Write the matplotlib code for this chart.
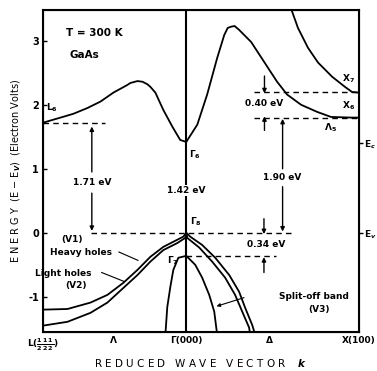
import matplotlib.pyplot as plt

# band energies (k: L at -0.83, Gamma at 0, X at 1)
cb_L_k = [-0.83, -0.728, -0.653, -0.572, -0.497, -0.422, -0.341, -0.324, -0.283, -0.254, -0.225, -0.208, -0.179, -0.133, -0.081, -0.035, 0.0]
cb_L_E = [1.72, 1.80, 1.86, 1.95, 2.05, 2.19, 2.31, 2.34, 2.37, 2.36, 2.32, 2.28, 2.19, 1.92, 1.66, 1.45, 1.42]

cb_X_k = [0.0, 0.064, 0.121, 0.179, 0.22, 0.24, 0.26, 0.28, 0.306, 0.376, 0.451, 0.526, 0.584, 0.665, 0.757, 0.838, 0.954, 1.0]
cb_X_E = [1.42, 1.69, 2.16, 2.73, 3.09, 3.20, 3.22, 3.23, 3.17, 2.98, 2.67, 2.36, 2.16, 2.00, 1.89, 1.81, 1.80, 1.80]

x7_k = [0.61, 0.647, 0.705, 0.763, 0.844, 0.919, 0.96, 1.0]
x7_E = [3.48, 3.20, 2.89, 2.66, 2.44, 2.28, 2.20, 2.19]

heavy_k = [-0.83, -0.688, -0.555, -0.457, -0.364, -0.283, -0.208, -0.133, -0.075, -0.017, 0.0,
           0.023, 0.092, 0.168, 0.249, 0.306, 0.341, 0.382, 0.399]
heavy_E = [-1.20, -1.19, -1.09, -0.97, -0.78, -0.58, -0.375, -0.22, -0.14, -0.06, 0.0,
           -0.06, -0.19, -0.39, -0.66, -0.92, -1.17, -1.44, -1.59]

light_k = [-0.83, -0.688, -0.555, -0.457, -0.364, -0.283, -0.208, -0.133, -0.052, -0.006, 0.0,
           0.006, 0.075, 0.150, 0.225, 0.283, 0.324, 0.364, 0.370]
light_E = [-1.45, -1.39, -1.25, -1.09, -0.86, -0.66, -0.45, -0.27, -0.16, -0.08, 0.0,
           -0.08, -0.23, -0.45, -0.70, -0.97, -1.23, -1.48, -1.59]

so_k = [-0.121, -0.110, -0.092, -0.075, -0.046, 0.0, 0.052, 0.092, 0.133, 0.162, 0.179]
so_E = [-1.59, -1.16, -0.84, -0.58, -0.39, -0.36, -0.50, -0.70, -0.97, -1.23, -1.59]

k_ticks = [-0.83, -0.42, 0.0, 0.48, 1.0]
k_labels = [r'L($\frac{1}{2}\frac{1}{2}\frac{1}{2}$)', 'Λ', 'Γ(000)', 'Δ', 'X(100)']
E_ticks = [-1, 0, 1, 2, 3]

E_L6 = 1.71
E_G6 = 1.42
E_X6 = 1.80
E_X7 = 2.20
E_G7 = -0.36

plt.rcParams['font.family'] = 'DejaVu Sans'
plt.rcParams['font.weight'] = 'bold'

fig = plt.figure(figsize=(3.77, 3.71), dpi=100)
ax = fig.add_axes([0.114, 0.105, 0.838, 0.868])

lw = 1.3
band = dict(color='black', lw=lw, solid_joinstyle='round', solid_capstyle='round')
ax.plot(cb_L_k, cb_L_E, **band)
ax.plot(cb_X_k, cb_X_E, **band)
ax.plot(x7_k, x7_E, **band)
ax.plot(heavy_k, heavy_E, **band)
ax.plot(light_k, light_E, **band)
ax.plot(so_k, so_E, **band)

ax.axvline(0, color='black', lw=1.5)

dash = dict(color='black', lw=1.0, ls=(0, (4, 3)))
ax.plot([-0.83, -0.47], [E_L6, E_L6], **dash)
ax.plot([-0.55, 0.62], [0, 0], **dash)
ax.plot([0, 0.52], [E_G7, E_G7], **dash)
ax.plot([0.39, 1.0], [E_X6, E_X6], **dash)
ax.plot([0.39, 1.0], [E_X7, E_X7], **dash)

arr = dict(arrowstyle='-|>', color='black', lw=1.0, mutation_scale=6, shrinkA=0, shrinkB=0)
fs = 6.5

# 1.71 eV
ax.annotate('', xy=(-0.547, E_L6 - 0.05), xytext=(-0.547, 0.95), arrowprops=arr)
ax.annotate('', xy=(-0.547, 0.03), xytext=(-0.547, 0.62), arrowprops=arr)
ax.text(-0.547, 0.78, '1.71 eV', ha='center', va='center', fontsize=fs)
# 1.42 eV
ax.text(0, 0.66, '1.42 eV', ha='center', va='center', fontsize=fs,
        bbox=dict(facecolor='white', edgecolor='none', pad=0.5))
# 1.90 eV
ax.annotate('', xy=(0.558, E_X6 - 0.02), xytext=(0.558, 1.0), arrowprops=arr)
ax.annotate('', xy=(0.558, 0.02), xytext=(0.558, 0.72), arrowprops=arr)
ax.text(0.558, 0.86, '1.90 eV', ha='center', va='center', fontsize=fs)
# 0.40 eV
ax.annotate('', xy=(0.453, E_X7 - 0.02), xytext=(0.453, 2.45), arrowprops=arr)
ax.annotate('', xy=(0.453, E_X6 + 0.02), xytext=(0.453, 1.60), arrowprops=arr)
ax.text(0.453, 2.02, '0.40 eV', ha='center', va='center', fontsize=fs)
# 0.34 eV
ax.annotate('', xy=(0.45, -0.02), xytext=(0.45, 0.22), arrowprops=arr)
ax.annotate('', xy=(0.45, E_G7 - 0.02), xytext=(0.45, -0.62), arrowprops=arr)
ax.text(0.465, -0.19, '0.34 eV', ha='center', va='center', fontsize=fs)

ax.text(-0.53, 3.12, 'T = 300 K', ha='center', va='center', fontsize=7.5)
ax.text(-0.59, 2.78, 'GaAs', ha='center', va='center', fontsize=7.5)

ax.text(-0.81, 1.95, r'L$_6$', fontsize=fs, va='center')
ax.text(0.015, 1.22, r'Γ$_6$', fontsize=fs, va='center')
ax.text(0.90, 2.40, r'X$_7$', fontsize=fs, va='center')
ax.text(0.90, 1.98, r'X$_6$', fontsize=fs, va='center')
ax.text(0.80, 1.64, r'Λ$_5$', fontsize=fs, va='center')
ax.text(0.02, 0.17, r'Γ$_8$', fontsize=fs, va='center')
ax.text(-0.11, -0.44, r'Γ$_7$', fontsize=fs, va='center')

ax.text(-0.66, -0.10, '(V1)', fontsize=fs, ha='center', va='center')
ax.text(-0.61, -0.30, 'Heavy holes', fontsize=fs, ha='center', va='center')
ax.plot([-0.39, -0.28], [-0.30, -0.43], color='black', lw=0.8)
ax.text(-0.71, -0.63, 'Light holes', fontsize=fs, ha='center', va='center')
ax.text(-0.64, -0.82, '(V2)', fontsize=fs, ha='center', va='center')
ax.plot([-0.49, -0.36], [-0.62, -0.76], color='black', lw=0.8)
ax.text(0.74, -1.0, 'Split-off band', fontsize=fs, ha='center', va='center')
ax.text(0.77, -1.2, '(V3)', fontsize=fs, ha='center', va='center')
ax.annotate('', xy=(0.16, -1.16), xytext=(0.35, -1.0),
            arrowprops=dict(arrowstyle='-|>', color='black', lw=0.8, mutation_scale=5))

ax.set_xlim(-0.83, 1.0)
ax.set_ylim(-1.55, 3.48)
ax.set_xticks(k_ticks)
ax.set_xticklabels(k_labels, fontsize=6.5)
ax.set_yticks(E_ticks)
ax.set_yticklabels([str(v) for v in E_ticks], fontsize=7)
ax.tick_params(axis='y', direction='in', length=3, width=1.0, pad=3)
ax.tick_params(axis='x', length=0, pad=3)
for s in ax.spines.values():
    s.set_linewidth(1.5)

ax2 = ax.twinx()
ax2.set_ylim(ax.get_ylim())
ax2.set_yticks([1.40, 0.0])
ax2.set_yticklabels([r'E$_c$', r'E$_v$'], fontsize=6.5)
ax2.tick_params(axis='y', direction='out', length=3, width=1.0, pad=0.5)

ax.set_xlabel(r'R E D U C E D   W A V E   V E C T O R    $k$', fontsize=7.5, labelpad=3)
ax.set_ylabel(r'E N E R G Y  (E − E$_V$)  (Electron Volts)', fontsize=7, labelpad=4)

fig.savefig('out.png', dpi=100)
